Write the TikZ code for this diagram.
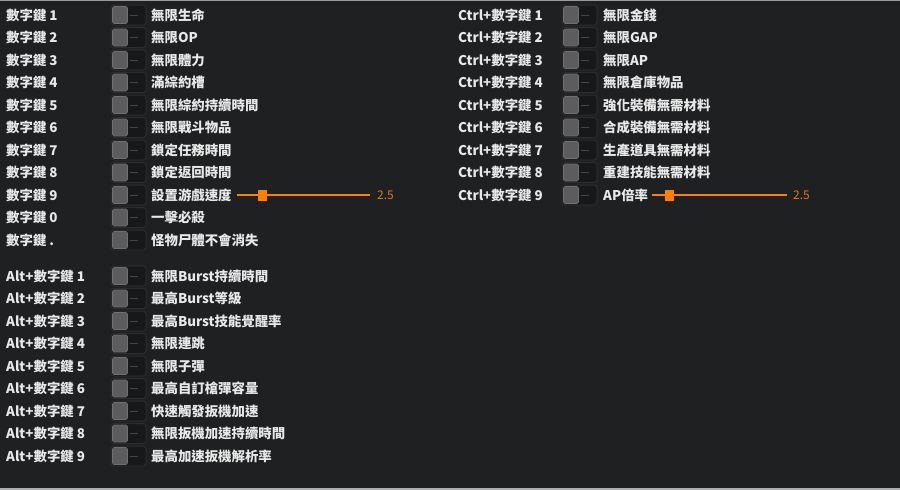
\documentclass[tikz,border=0pt]{standalone}
\usepackage{fontspec}
\setmainfont{Noto Sans CJK TC}
\usepackage{tikz}

\definecolor{panelbg}{HTML}{1F2022}
\definecolor{rimgray}{HTML}{9A9A9A}
\definecolor{labeltext}{HTML}{E8E8E8}
\definecolor{switchbg}{HTML}{17181A}
\definecolor{switchrim}{HTML}{2C2D30}
\definecolor{knobgray}{HTML}{5C5C5E}
\definecolor{knobrim}{HTML}{707072}
\definecolor{dashgray}{HTML}{45464A}
\definecolor{sliderorange}{HTML}{FF8000}
\definecolor{valueorange}{HTML}{D9791E}

\tikzset{
	keytext/.style={anchor=base west, inner sep=0pt, text=labeltext, font=\bfseries\fontsize{13.4}{13.4}\selectfont},
	valtext/.style={anchor=base west, inner sep=0pt, text=valueorange, font=\fontsize{12}{12}\selectfont},
	switchbox/.style={draw=switchrim, fill=switchbg, rounded corners=3pt, line width=1pt},
	knobbox/.style={draw=knobrim, fill=knobgray, rounded corners=1.5pt, line width=0.6pt},
	sliderline/.style={draw=sliderorange, line width=2pt}
}

\begin{document}
\begin{tikzpicture}[x=1pt, y=-1pt]

	\fill[panelbg] (0,0) rectangle (900,490);
	\useasboundingbox (0,0) rectangle (900,490);
	\fill[rimgray] (0,0) rectangle (900,1.2);
	\fill[rimgray!80] (0,487.5) rectangle (900,490);

	% left block
	\foreach \key/\name [count=\i from 0] in {
		數字鍵 1/無限生命, 數字鍵 2/無限OP, 數字鍵 3/無限體力, 數字鍵 4/滿綜約槽,
		數字鍵 5/無限綜約持續時間, 數字鍵 6/無限戰斗物品, 數字鍵 7/鎖定任務時間,
		數字鍵 8/鎖定返回時間, 數字鍵 9/設置游戲速度, 數字鍵 0/一擊必殺, 數字鍵 ./怪物尸體不會消失}
	{
		\pgfmathsetmacro{\rowy}{15+22.5*\i}
		\node[keytext] (L\i) at (6,\rowy+5) {\key};
		\draw[switchbox] (111,\rowy-10) rectangle (146,\rowy+10);
		\draw[knobbox] (112.5,\rowy-8.5) rectangle (127.5,\rowy+8.5);
		\draw[dashgray, line width=1pt] (130,\rowy) -- (138,\rowy);
		\node[keytext] (LT\i) at (151,\rowy+5) {\name};
	}

	% alt block
	\foreach \key/\name [count=\j from 0] in {
		Alt+數字鍵 1/無限Burst持續時間, Alt+數字鍵 2/最高Burst等級, Alt+數字鍵 3/最高Burst技能覺醒率,
		Alt+數字鍵 4/無限連跳, Alt+數字鍵 5/無限子彈, Alt+數字鍵 6/最高自訂槍彈容量,
		Alt+數字鍵 7/快速觸發扳機加速, Alt+數字鍵 8/無限扳機加速持續時間, Alt+數字鍵 9/最高加速扳機解析率}
	{
		\pgfmathsetmacro{\rowy}{276+22.5*\j}
		\node[keytext] (A\j) at (6,\rowy+5) {\key};
		\draw[switchbox] (111,\rowy-10) rectangle (146,\rowy+10);
		\draw[knobbox] (112.5,\rowy-8.5) rectangle (127.5,\rowy+8.5);
		\draw[dashgray, line width=1pt] (130,\rowy) -- (138,\rowy);
		\node[keytext] (AT\j) at (151,\rowy+5) {\name};
	}

	% ctrl block
	\foreach \key/\name [count=\k from 0] in {
		Ctrl+數字鍵 1/無限金錢, Ctrl+數字鍵 2/無限GAP, Ctrl+數字鍵 3/無限AP,
		Ctrl+數字鍵 4/無限倉庫物品, Ctrl+數字鍵 5/強化裝備無需材料, Ctrl+數字鍵 6/合成裝備無需材料,
		Ctrl+數字鍵 7/生產道具無需材料, Ctrl+數字鍵 8/重建技能無需材料, Ctrl+數字鍵 9/AP倍率}
	{
		\pgfmathsetmacro{\rowy}{15+22.5*\k}
		\node[keytext] (C\k) at (458,\rowy+5) {\key};
		\draw[switchbox] (562,\rowy-10) rectangle (597,\rowy+10);
		\draw[knobbox] (563.5,\rowy-8.5) rectangle (578.5,\rowy+8.5);
		\draw[dashgray, line width=1pt] (581,\rowy) -- (589,\rowy);
		\node[keytext] (CT\k) at (603,\rowy+5) {\name};
	}

	% sliders
	\coordinate (speedA) at (237,195);
	\coordinate (speedB) at (370,195);
	\draw[sliderline] (speedA) -- (speedB);
	\fill[sliderorange] (258,189.5) rectangle (267,200.5);
	\node[valtext] (speedval) at (377,199.5) {2.5};

	\coordinate (rateA) at (652,195);
	\coordinate (rateB) at (787,195);
	\draw[sliderline] (rateA) -- (rateB);
	\fill[sliderorange] (665,189.5) rectangle (674,200.5);
	\node[valtext] (rateval) at (793,199.5) {2.5};

\end{tikzpicture}
\end{document}
